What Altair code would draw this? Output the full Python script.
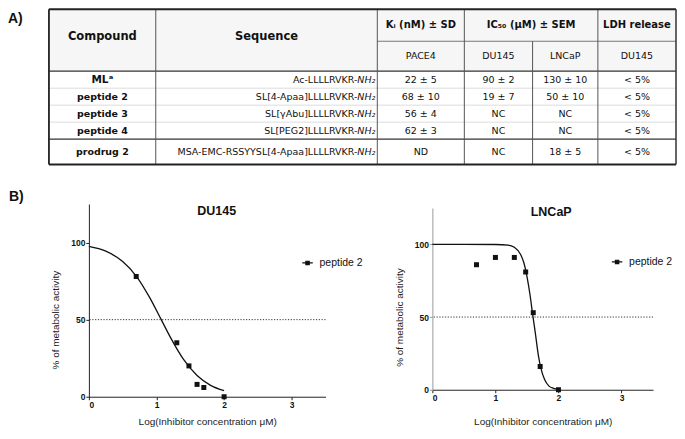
import altair as alt
import pandas as pd

# ---------------- Panel A : table ----------------
compounds = ["MLᵃ", "peptide 2", "peptide 3", "peptide 4", "prodrug 2"]
sequences = ["Ac-LLLLRVKR-", "SL[4-Apaa]LLLLRVKR-", "SL[γAbu]LLLLRVKR-",
             "SL[PEG2]LLLLRVKR-", "MSA-EMC-RSSYYSL[4-Apaa]LLLLRVKR-"]
sequence_end = ["NH₂", "NH₂", "NH₂", "NH₂", "NH₂"]
ki_pace4 = ["22 ± 5", "68 ± 10", "56 ± 4", "62 ± 3", "ND"]
ic50_du145 = ["90 ± 2", "19 ± 7", "NC", "NC", "NC"]
ic50_lncap = ["130 ± 10", "50 ± 10", "NC", "NC", "18 ± 5"]
ldh_du145 = ["< 5%", "< 5%", "< 5%", "< 5%", "< 5%"]
header_main = ["Compound", "Sequence", "Kᵢ (nM) ± SD", "IC₅₀ (μM) ± SEM", "LDH release"]
header_sub = ["PACE4", "DU145", "LNCaP", "DU145"]
panel_labels = ["A)", "B)"]

# ---------------- Panel B : dose-response ----------------
series_name = ["peptide 2"]
axis_title_x = "Log(Inhibitor concentration μM)"
axis_title_y = "% of metabolic activity"
panel_titles = ["DU145", "LNCaP"]

du145_logc = [0.7, 1.3, 1.48, 1.6, 1.7, 2.0]
du145_activity = [78, 35, 20, 8, 6, 0]
du145_fit_logc = [0, 0.25, 0.5, 0.7, 0.9, 1.07, 1.2, 1.4, 1.6, 1.8, 2.0]
du145_fit_activity = [97.5, 94.4, 87.7, 78.3, 64.3, 50, 39, 24.2, 13.8, 7.4, 3.9]

lncap_logc = [0.7, 1.0, 1.3, 1.48, 1.6, 1.71, 2.0]
lncap_activity = [86, 91, 91, 81, 53, 16, 0]
lncap_fit_logc = [0, 0.5, 1.0, 1.2, 1.3, 1.4, 1.45, 1.5, 1.55, 1.59, 1.63, 1.68,
                  1.72, 1.78, 1.85, 1.92, 2.0]
lncap_fit_activity = [100, 100, 99.9, 99.5, 98, 93, 87.5, 78, 65, 52, 40, 24,
                      15, 7, 2.5, 1, 0.2]

threshold = [50]

# ---------------- layout (table grid in reference pixel units) ----------------
COL = [48, 156, 380, 468, 537, 603, 682]
ROW = [1, 33, 63, 80, 97, 114, 131, 156.5]
TW, TH = 628, 157
SHIFT = 40          # table starts this far left of the DU145 plot
TFONT = "DejaVu Sans"
CFONT = "Liberation Sans"
row_mid = [(ROW[i + 2] + ROW[i + 3]) / 2 for i in range(5)]
ccol = [(COL[i] + COL[i + 1]) / 2 for i in range(6)]

txs = alt.Scale(domain=[COL[0], COL[-1]], range=[-SHIFT, TW - SHIFT], nice=False, zero=False)
tys = alt.Scale(domain=[TH, 0], nice=False, zero=False)

bg = pd.DataFrame({"x": [COL[0]], "x2": [COL[-1]], "y": [ROW[0]], "y2": [ROW[2]]})
bg_layer = alt.Chart(bg).mark_rect(color="#f6f6f6").encode(
    x=alt.X("x:Q", scale=txs, axis=None), x2="x2",
    y=alt.Y("y:Q", scale=tys, axis=None), y2="y2")

lines = []
def hline(y, x1, x2, c, w):
    lines.append(dict(x=x1, x2=x2, y=y, y2=y, c=c, w=w))
def vline(x, y1, y2, c, w):
    lines.append(dict(x=x, x2=x, y=y1, y2=y2, c=c, w=w))

for y in ROW[3:6]:
    hline(y, COL[0], COL[-1], "#dcdcdc", 1)
hline(ROW[1], COL[2], COL[-1], "#777", 1)
hline(ROW[2], COL[0], COL[-1], "#333", 1.2)
hline(ROW[6], COL[0], COL[-1], "#333", 1.2)
for x in [COL[1], COL[2], COL[3], COL[5]]:
    vline(x, ROW[0], ROW[-1], "#555", 1)
vline(COL[4], ROW[1], ROW[-1], "#555", 1)
hline(ROW[0], COL[0], COL[-1], "#222", 2)
hline(ROW[-1], COL[0], COL[-1], "#222", 2)
vline(COL[0], ROW[0], ROW[-1], "#222", 1.8)
vline(COL[-1], ROW[0], ROW[-1], "#333", 1.5)

rules = alt.Chart(pd.DataFrame(lines)).mark_rule().encode(
    x=alt.X("x:Q", scale=txs, axis=None), x2="x2",
    y=alt.Y("y:Q", scale=tys, axis=None), y2="y2",
    color=alt.Color("c:N", scale=None),
    strokeWidth=alt.StrokeWidth("w:Q", scale=None))

bold = [
    dict(x=ccol[0], y=29, t=header_main[0], s=11.5),
    dict(x=ccol[1], y=29, t=header_main[1], s=11.5),
    dict(x=ccol[2], y=17, t=header_main[2], s=10),
    dict(x=(COL[3] + COL[5]) / 2, y=17, t=header_main[3], s=10),
    dict(x=ccol[5], y=17, t=header_main[4], s=10),
]
for i, c in enumerate(compounds):
    bold.append(dict(x=ccol[0], y=row_mid[i], t=c, s=10.5 if i == 0 else 9.5))

reg = []
for j, h in enumerate(header_sub):
    reg.append(dict(x=ccol[2 + j], y=48, t=h, s=9.5))
for i in range(5):
    for j, col in enumerate([ki_pace4, ic50_du145, ic50_lncap, ldh_du145]):
        reg.append(dict(x=ccol[2 + j], y=row_mid[i], t=col[i], s=9.5))

seq = pd.DataFrame({"x": [COL[2]] * 5, "y": row_mid, "t": sequences})
seq_end = pd.DataFrame({"x": [COL[2]] * 5, "y": row_mid, "t": sequence_end})

def tenc():
    return dict(x=alt.X("x:Q", scale=txs, axis=None),
                y=alt.Y("y:Q", scale=tys, axis=None), text="t:N")

bold_layer = alt.Chart(pd.DataFrame(bold)).mark_text(
    font=TFONT, fontWeight="bold", color="#111", baseline="middle", align="center"
).encode(size=alt.Size("s:Q", scale=None), **tenc())
reg_layer = alt.Chart(pd.DataFrame(reg)).mark_text(
    font=TFONT, color="#111", baseline="middle", align="center"
).encode(size=alt.Size("s:Q", scale=None), **tenc())
seq_layer = alt.Chart(seq).mark_text(
    font=TFONT, fontSize=9.5, color="#111", baseline="middle", align="right", dx=-20
).encode(**tenc())
seq_end_layer = alt.Chart(seq_end).mark_text(
    font=TFONT, fontSize=9.5, fontStyle="italic", color="#111", baseline="middle",
    align="right", dx=-2
).encode(**tenc())
a_label = alt.Chart(pd.DataFrame({"t": [panel_labels[0]]})).mark_text(
    font=CFONT, fontWeight="bold", fontSize=14, align="left", baseline="middle", color="#111"
).encode(x=alt.value(-SHIFT - 41), y=alt.value(11), text="t:N")
b_label = alt.Chart(pd.DataFrame({"t": [panel_labels[1]]})).mark_text(
    font=CFONT, fontWeight="bold", fontSize=14, align="left", baseline="bottom", color="#111"
).encode(x=alt.value(-SHIFT - 40), y=alt.value(196), text="t:N")

table = alt.layer(bg_layer, rules, bold_layer, reg_layer, seq_layer, seq_end_layer,
                  a_label, b_label).properties(width=TW - SHIFT, height=TH)


# ---------------- dose-response panels ----------------
H = 193


def panel(idx, logc, act, fit_x, fit_y, w, dom_y_color, y_range, x_offset, x_title_pad,
          title_xy, legend_xy):
    xs = alt.Scale(domain=[0, 3.5], nice=False, zero=False)
    ys = alt.Scale(domain=[0, 125], range=y_range, nice=False, zero=False)
    x_axis = alt.Axis(values=[0, 1, 2, 3], format="d", title=axis_title_x, grid=False,
                      tickSize=3, tickColor="#222", domainColor="#222", offset=x_offset,
                      labelFont=CFONT, labelFontWeight="bold", labelFontSize=8.5,
                      labelColor="#111", labelPadding=1,
                      titleFont=CFONT, titleFontWeight="normal", titleFontSize=10,
                      titleColor="#222", titlePadding=x_title_pad)
    y_axis = alt.Axis(values=[0, 50, 100], format="d", title=axis_title_y, grid=False,
                      tickSize=3, tickColor=dom_y_color, domainColor=dom_y_color,
                      labelFont=CFONT, labelFontWeight="bold", labelFontSize=8.5,
                      labelColor="#111", labelPadding=1,
                      titleFont=CFONT, titleFontWeight="normal", titleFontSize=10,
                      titleColor="#222", titlePadding=10,
                      titleY=y_range[0] - (y_range[0] - y_range[1]) * 50 / 125)
    pts = pd.DataFrame({"logc": logc, "act": act, "series": series_name * len(logc)})
    fit = pd.DataFrame({"logc": fit_x, "act": fit_y})
    ref = pd.DataFrame({"act": threshold})

    pt_layer = alt.Chart(pts).mark_square(size=25, opacity=1).encode(
        x=alt.X("logc:Q", scale=xs, axis=x_axis),
        y=alt.Y("act:Q", scale=ys, axis=y_axis),
        color=alt.Color("series:N", scale=alt.Scale(range=["#111"]),
                        legend=alt.Legend(title=None, orient="none",
                                          legendX=legend_xy[0], legendY=legend_xy[1],
                                          symbolType="M-1,0H1M-0.32,-0.32H0.32V0.32H-0.32Z",
                                          symbolSize=110, symbolStrokeColor="#111",
                                          symbolStrokeWidth=1.2, symbolFillColor="#111",
                                          labelFont=CFONT, labelFontSize=10.5,
                                          labelColor="#111", labelOffset=6)))
    fit_layer = alt.Chart(fit).mark_line(color="#111", strokeWidth=1.3,
                                         interpolate="monotone").encode(
        x=alt.X("logc:Q", scale=xs, axis=x_axis), y=alt.Y("act:Q", scale=ys, axis=y_axis))
    ref_layer = alt.Chart(ref).mark_rule(color="#333", strokeWidth=1,
                                         strokeDash=[1.2, 1.6]).encode(
        y=alt.Y("act:Q", scale=ys, axis=y_axis))
    title_layer = alt.Chart(pd.DataFrame({"t": [panel_titles[idx]]})).mark_text(
        font=CFONT, fontWeight="bold", fontSize=12.5, align="center", baseline="middle",
        color="#111").encode(x=alt.value(title_xy[0]), y=alt.value(title_xy[1]), text="t:N")
    return alt.layer(pt_layer, fit_layer, ref_layer, title_layer).properties(
        width=w, height=H)


du = panel(0, du145_logc, du145_activity, du145_fit_logc, du145_fit_activity,
           237, "#222", [H, 0], 0, 7, (128, 7), (213, 53))
ln = panel(1, lncap_logc, lncap_activity, lncap_fit_logc, lncap_fit_activity,
           221, "#9a9a9a", [H - 7, 4], -7, 14, (119, 8), (179, 52))

charts = alt.concat(du, ln, columns=2, spacing=30, align="none").resolve_scale(
    color="independent").resolve_legend(color="independent")
chart = alt.concat(table, charts, columns=1, spacing=0, align="none").resolve_scale(
    color="independent").resolve_legend(color="independent").properties(
    padding=0).configure_view(stroke=None)

chart.save("out.html", embed_options={"renderer": "svg", "actions": False})
